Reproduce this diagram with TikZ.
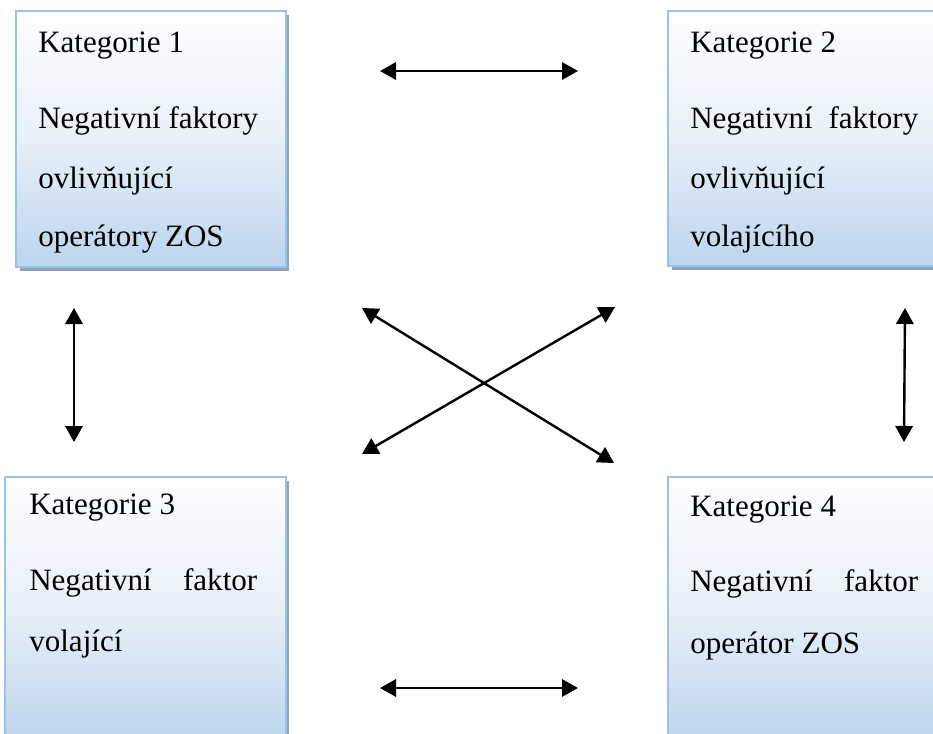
\documentclass[tikz,border=0pt]{standalone}
\usepackage{fontspec}
\setmainfont{Liberation Serif}
\usetikzlibrary{arrows.meta}
\definecolor{boxtop}{RGB}{253,254,255}
\definecolor{boxbottom}{RGB}{188,212,237}
\definecolor{boxline}{RGB}{157,194,232}
\definecolor{boxshadow}{RGB}{140,163,194}
\tikzset{
  catbox/.style={draw=boxline, line width=1.5pt, top color=boxtop, bottom color=boxbottom,
    middle color={rgb,255:red,232;green,240;blue,249}},
  catshadow/.style={fill=boxshadow, draw=none},
  line/.style={anchor=base west, inner sep=0pt, font=\fontsize{23.3}{28}\selectfont},
  link/.style={line width=1.8pt, {Triangle[length=12pt,width=13pt]}-{Triangle[length=12pt,width=13pt]}}
}
\begin{document}
\begin{tikzpicture}[x=0.75pt, y=-0.75pt]
\useasboundingbox (0,0) rectangle (933,733);
\clip (0,0) rectangle (933,733);

% category boxes with their drop shadows
\fill[catshadow] (20,15) rectangle (289,271);
\path[catbox] (16,11) rectangle (286,267);
\fill[catshadow] (672,15) rectangle (945,270);
\path[catbox] (668,11) rectangle (942,266);
\fill[catshadow] (9,481) rectangle (289,745);
\path[catbox] (5,477) rectangle (286,742);
\fill[catshadow] (672,481) rectangle (945,745);
\path[catbox] (668,477) rectangle (942,742);

% box texts
\node[line] (k1) at (38,52) {Kategorie 1};
\node[line] (k1a) at (38,128) {Negativní faktory};
\node[line] (k1b) at (38,188) {ovlivňující};
\node[line] (k1c) at (38,246) {operátory ZOS};

\node[line] (k2) at (690,52) {Kategorie 2};
\node[line] (k2a) at (690,128) {\hbox to 171pt{Negativní\hfill faktory}};
\node[line] (k2b) at (690,188) {ovlivňující};
\node[line] (k2c) at (690,246) {volajícího};

\node[line] (k3) at (29,514) {Kategorie 3};
\node[line] (k3a) at (29,590) {\hbox to 171pt{Negativní\hfill faktor}};
\node[line] (k3b) at (29,651) {volající};

\node[line] (k4) at (690,516) {Kategorie 4};
\node[line] (k4a) at (690,591) {\hbox to 171pt{Negativní\hfill faktor}};
\node[line] (k4b) at (690,653) {operátor ZOS};

% connector end points
\coordinate (t1) at (380,71);
\coordinate (t2) at (578,71);
\coordinate (b1) at (380,688);
\coordinate (b2) at (578,688);
\coordinate (l1) at (74,308);
\coordinate (l2) at (74,442);
\coordinate (r1) at (905,308);
\coordinate (r2) at (904,442);
\coordinate (x1) at (362,308);
\coordinate (x2) at (614,463);
\coordinate (x3) at (615,307);
\coordinate (x4) at (362,454);

% connectors
\draw[link] (t1) -- (t2);
\draw[link] (b1) -- (b2);
\draw[link] (l1) -- (l2);
\draw[link] (r1) -- (r2);
\draw[link] (x1) -- (x2);
\draw[link] (x3) -- (x4);
\end{tikzpicture}
\end{document}
